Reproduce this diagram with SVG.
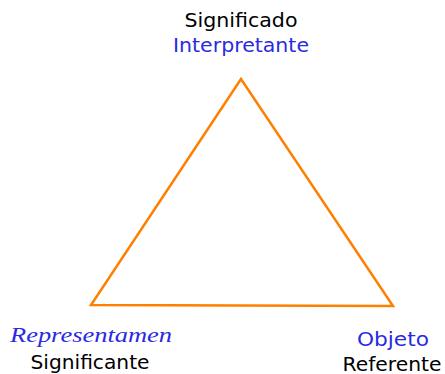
<svg xmlns="http://www.w3.org/2000/svg" width="445" height="374" viewBox="0 0 445 374">
<style>
.k{font-family:"DejaVu Sans","Liberation Sans",sans-serif;font-size:19px;fill:#000;text-anchor:middle}
.b{font-family:"DejaVu Sans","Liberation Sans",sans-serif;font-size:19px;fill:#2a2ae0;text-anchor:middle}
.i{font-family:"Liberation Serif",serif;font-style:italic;font-size:22px;fill:#2a2ae0;text-anchor:middle}
.e{fill:none;stroke:#ff8000;stroke-width:2.5;stroke-linejoin:miter}
</style>
<rect width="445" height="374" fill="#fff"/>
<g id="connectors">
<path class="e" d="M241,79 L91,305 L393,306 Z"/>
</g>
<g id="top"><text class="k" x="241" y="27" textLength="113" lengthAdjust="spacingAndGlyphs">Significado</text><text class="b" x="241" y="52" textLength="136" lengthAdjust="spacingAndGlyphs">Interpretante</text></g>
<g id="left"><text class="i" x="91" y="342" textLength="162" lengthAdjust="spacingAndGlyphs">Representamen</text><text class="k" x="90" y="369" textLength="119" lengthAdjust="spacingAndGlyphs">Significante</text></g>
<g id="right"><text class="b" x="393" y="346" textLength="72" lengthAdjust="spacingAndGlyphs">Objeto</text><text class="k" x="392" y="371" textLength="99" lengthAdjust="spacingAndGlyphs">Referente</text></g>
</svg>
